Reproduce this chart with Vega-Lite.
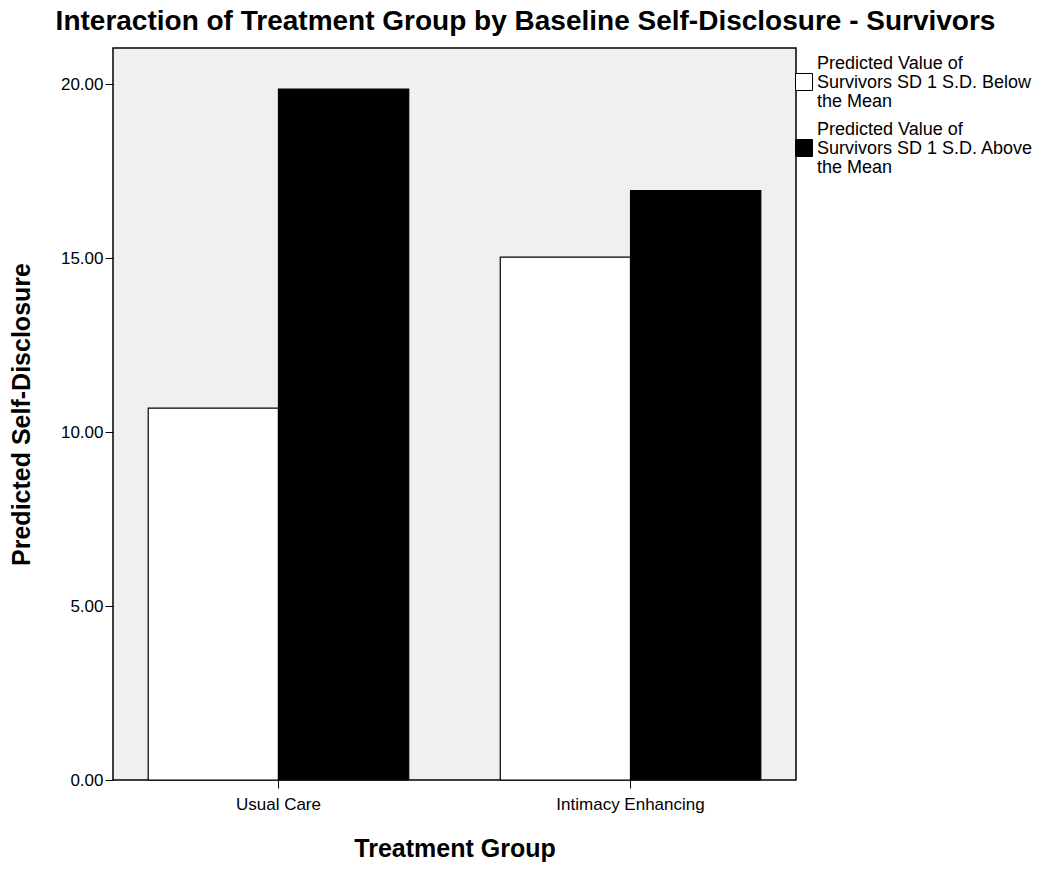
{
  "$schema": "https://vega.github.io/schema/vega-lite/v6.json",
  "autosize": {"type": "none"},
  "width": 683,
  "height": 732,
  "padding": {"left": 113, "top": 48, "right": 254, "bottom": 94},
  "background": "white",
  "title": {
    "text": "Interaction of Treatment Group by Baseline Self-Disclosure - Survivors",
    "font": "Liberation Sans",
    "fontSize": 28,
    "fontWeight": "bold",
    "color": "black",
    "anchor": "middle",
    "frame": "group",
    "dx": 71,
    "offset": 12
  },
  "data": {
    "values": [
      {"group": "Usual Care", "series": "Predicted Value of|Survivors SD 1 S.D. Below|the Mean", "value": 10.69},
      {"group": "Usual Care", "series": "Predicted Value of|Survivors SD 1 S.D. Above|the Mean", "value": 19.86},
      {"group": "Intimacy Enhancing", "series": "Predicted Value of|Survivors SD 1 S.D. Below|the Mean", "value": 15.03},
      {"group": "Intimacy Enhancing", "series": "Predicted Value of|Survivors SD 1 S.D. Above|the Mean", "value": 16.94}
    ]
  },
  "mark": {"type": "bar", "stroke": "black", "strokeWidth": 1.2, "opacity": 1},
  "encoding": {
    "x": {
      "field": "group",
      "type": "nominal",
      "sort": ["Usual Care", "Intimacy Enhancing"],
      "title": "Treatment Group",
      "scale": {"paddingInner": 0.26, "paddingOuter": 0.1},
      "axis": {
        "labelAngle": 0,
        "labelFontSize": 17,
        "labelFont": "Liberation Sans",
        "labelColor": "black",
        "labelPadding": 8,
        "tickColor": "black",
        "tickSize": 8,
        "domain": false,
        "titleFont": "Liberation Sans",
        "titleFontSize": 25,
        "titleFontWeight": "bold",
        "titleColor": "black",
        "titlePadding": 24
      }
    },
    "xOffset": {
      "field": "series",
      "type": "nominal",
      "sort": ["Predicted Value of|Survivors SD 1 S.D. Below|the Mean", "Predicted Value of|Survivors SD 1 S.D. Above|the Mean"],
      "scale": {"paddingInner": 0, "paddingOuter": 0}
    },
    "y": {
      "field": "value",
      "type": "quantitative",
      "title": "Predicted Self-Disclosure",
      "scale": {"domain": [0, 21.04], "nice": false},
      "axis": {
        "values": [0, 5, 10, 15, 20],
        "format": ".2f",
        "grid": false,
        "labelFontSize": 17,
        "labelFont": "Liberation Sans",
        "labelColor": "black",
        "labelPadding": 2,
        "tickColor": "black",
        "tickSize": 8,
        "domain": false,
        "titleFont": "Liberation Sans",
        "titleFontSize": 25,
        "titleFontWeight": "bold",
        "titleColor": "black",
        "titlePadding": 26
      }
    },
    "color": {
      "field": "series",
      "type": "nominal",
      "sort": ["Predicted Value of|Survivors SD 1 S.D. Below|the Mean", "Predicted Value of|Survivors SD 1 S.D. Above|the Mean"],
      "scale": {"range": ["white", "black"]},
      "legend": {
        "title": null,
        "orient": "none",
        "legendX": 682,
        "legendY": 25,
        "symbolType": "square",
        "symbolSize": 289,
        "symbolStrokeColor": "black",
        "symbolStrokeWidth": 1,
        "symbolOpacity": 1,
        "labelExpr": "split(datum.label, '|')",
        "labelFont": "Liberation Sans",
        "labelFontSize": 18,
        "labelColor": "black",
        "labelLimit": 0,
        "labelOffset": 4,
        "rowPadding": 10,
        "encode": {
          "labels": {
            "update": {
              "dy": {"value": -18},
              "lineHeight": {"value": 19}
            }
          }
        }
      }
    }
  },
  "config": {
    "view": {"fill": "#f0f0f0", "stroke": "black", "strokeWidth": 1.5}
  }
}
